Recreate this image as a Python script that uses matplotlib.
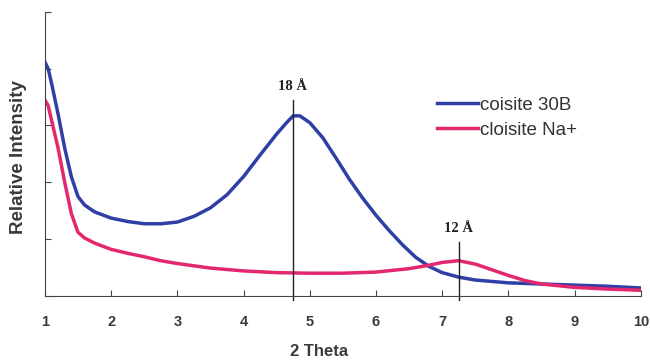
import matplotlib
matplotlib.use("agg")
import matplotlib.pyplot as plt

# 2 theta vs relative intensity
blue_x = [1.0, 1.05, 1.1, 1.2, 1.3, 1.4, 1.5, 1.6, 1.75, 2.0, 2.25, 2.5, 2.75, 3.0,
          3.25, 3.5, 3.75, 4.0, 4.25, 4.5, 4.65, 4.75, 4.85, 5.0, 5.2, 5.4, 5.6, 5.8,
          6.0, 6.2, 6.4, 6.6, 6.8, 7.0, 7.25, 7.5, 8.0, 8.5, 9.0, 9.5, 10.0]
blue_y = [4.12, 4.0, 3.75, 3.2, 2.6, 2.1, 1.75, 1.6, 1.48, 1.37, 1.31, 1.27, 1.27, 1.30,
          1.40, 1.55, 1.78, 2.10, 2.48, 2.85, 3.05, 3.17, 3.17, 3.05, 2.78, 2.42, 2.05, 1.72,
          1.42, 1.15, 0.90, 0.68, 0.52, 0.41, 0.33, 0.28, 0.23, 0.21, 0.19, 0.17, 0.14]

pink_x = [1.0, 1.05, 1.1, 1.2, 1.3, 1.4, 1.5, 1.6, 1.75, 2.0, 2.25, 2.5, 2.75, 3.0,
          3.5, 4.0, 4.5, 5.0, 5.5, 6.0, 6.5, 6.8, 7.0, 7.25, 7.5, 7.75, 8.0, 8.25,
          8.5, 9.0, 9.5, 10.0]
pink_y = [3.45, 3.35, 3.1, 2.6, 2.0, 1.45, 1.12, 1.02, 0.93, 0.82, 0.75, 0.69, 0.62, 0.57,
          0.49, 0.44, 0.41, 0.40, 0.40, 0.42, 0.48, 0.54, 0.59, 0.62, 0.56, 0.46, 0.36, 0.27,
          0.21, 0.15, 0.12, 0.10]

labels = ["coisite 30B", "cloisite Na+"]
peaks_x = [4.74, 7.25]
peaks_top = [3.45, 0.95]
peak_labels = ["18 Å", "12 Å"]
xticks = [1, 2, 3, 4, 5, 6, 7, 8, 9, 10]

BLUE = "#2f3fa6"
PINK = "#e3286f"
TXT = "#333333"

plt.rcParams['font.family'] = ['Liberation Sans', 'DejaVu Sans']

fig = plt.figure(figsize=(6.5, 3.6), dpi=100)
ax = fig.add_axes([0.069, 0.178, 0.917, 0.789])

ax.plot(blue_x, blue_y, color=BLUE, lw=2.5, label=labels[0])
ax.plot(pink_x, pink_y, color=PINK, lw=2.5, label=labels[1])

for px, pt, pl in zip(peaks_x, peaks_top, peak_labels):
    ax.plot([px, px], [-0.08, pt], color="#222222", lw=1.0, clip_on=False)
    ax.text(px, pt + 0.12, pl, ha="center", va="bottom", fontsize=10.5,
            fontweight="bold", family="Liberation Serif", color="#222222")

ax.set_xlim(1, 10)
ax.set_ylim(0, 5)
ax.set_xticks(xticks)
ax.set_yticks([0, 1, 2, 3, 4, 5])
ax.set_yticklabels([])
ax.tick_params(direction="in", length=4, width=0.8, colors="#444444",
               labelcolor="#3a3a3a", labelsize=10.5, pad=14)
for lab in ax.get_xticklabels():
    lab.set_fontweight("bold")
ax.spines["top"].set_visible(False)
ax.spines["right"].set_visible(False)
ax.spines["left"].set_color("#444444")
ax.spines["bottom"].set_color("#444444")

ax.set_xlabel("2 Theta", fontsize=12, fontweight="bold", color="#3a3a3a", va="center")
ax.xaxis.set_label_coords(0.46, -0.197)
ax.set_ylabel("Relative Intensity", fontsize=13.5, fontweight="bold", color="#3a3a3a",
              va="center")
ax.yaxis.set_label_coords(-0.045, 0.49)

ax.legend(loc="upper left", bbox_to_anchor=(0.63, 0.76), frameon=False,
          fontsize=13.5, handlelength=2.2, handletextpad=0.1, labelspacing=0.4,
          labelcolor=TXT)

fig.savefig("out.png", dpi=100)
